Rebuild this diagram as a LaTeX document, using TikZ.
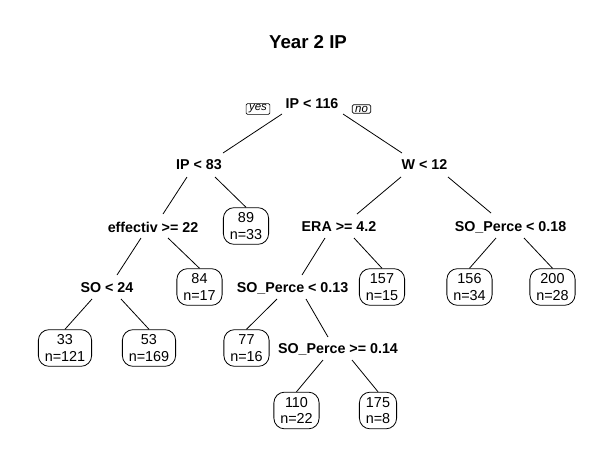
\documentclass[tikz,border=0pt]{standalone}
\usepackage{fontspec}
\setmainfont{Liberation Sans}
\usetikzlibrary{calc}
\begin{document}
\begin{tikzpicture}[x=0.75pt,y=-0.75pt,
  split/.style={font=\bfseries\fontsize{10.7}{12}\selectfont, inner sep=0pt},
  leaf/.style={draw, line width=0.6pt, rounded corners=8pt, align=center,
    font=\fontsize{10.8}{12.2}\selectfont, minimum height=27.5pt, inner xsep=4.8pt, inner ysep=1pt},
  lab/.style={draw, line width=0.5pt, font=\itshape\fontsize{8.6}{9}\selectfont,
    inner xsep=2.2pt, inner ysep=0.8pt, rounded corners=1pt},
  br/.style={line width=0.6pt}]
\useasboundingbox (0,0) rectangle (614,461);
\fill[white] (0,0) rectangle (614,461);
\node[font=\bfseries\fontsize{14}{16}\selectfont] (title) at (308,42) {Year 2 IP};
% split nodes
\node[split] (root) at (312,104) {IP < 116};
\node[lab] (yes) at (258,109) {yes};
\node[lab] (no) at (361.5,109) {no};
\node[split] (ip83) at (199,165) {IP < 83};
\node[split] (w12) at (424.5,165) {W < 12};
\node[split] (eff) at (153,227) {effectiv >= 22};
\node[split] (era) at (339,227) {ERA >= 4.2};
\node[split] (so18) at (510.5,227) {SO\_Perce < 0.18};
\node[split] (so24) at (107,288) {SO < 24};
\node[split] (so13) at (292.5,288) {SO\_Perce < 0.13};
\node[split] (so14) at (338,349) {SO\_Perce >= 0.14};
% leaves
\node[leaf] (l89) at (246,226) {89\\n=33};
\node[leaf] (l84) at (199.5,287) {84\\n=17};
\node[leaf] (l157) at (382,287) {157\\n=15};
\node[leaf] (l156) at (469.5,287) {156\\n=34};
\node[leaf] (l200) at (552.5,287) {200\\n=28};
\node[leaf] (l33) at (65,348) {33\\n=121};
\node[leaf] (l53) at (149,348) {53\\n=169};
\node[leaf] (l77) at (246.5,348) {77\\n=16};
\node[leaf] (l110) at (296.5,410.5) {110\\n=22};
\node[leaf] (l175) at (378,410.5) {175\\n=8};
% branches
\draw[br] ($(root)+(-30,10)$) -- ($(ip83)+(24,-12)$);
\draw[br] ($(root)+(31,10)$) -- ($(w12)+(-22.5,-12)$);
\draw[br] ($(ip83)+(-12,12)$) -- ($(eff)+(10,-13)$);
\draw[br] ($(ip83)+(16,12)$) -- (l89.north);
\draw[br] ($(w12)+(-23.5,12)$) -- ($(era)+(18,-13)$);
\draw[br] ($(w12)+(23.5,12)$) -- ($(so18)+(-19.5,-14)$);
\draw[br] ($(eff)+(-12,11)$) -- ($(so24)+(10,-13)$);
\draw[br] ($(eff)+(15,11)$) -- (l84.north);
\draw[br] ($(era)+(-14,11)$) -- ($(so13)+(9.5,-13)$);
\draw[br] ($(era)+(15,11)$) -- (l157.north);
\draw[br] ($(so18)+(-14.5,11)$) -- (l156.north);
\draw[br] ($(so18)+(13.5,11)$) -- (l200.north);
\draw[br] ($(so24)+(-15,11)$) -- (l33.north);
\draw[br] ($(so24)+(14,11)$) -- (l53.north);
\draw[br] ($(so13)+(-15.5,11)$) -- (l77.north);
\draw[br] ($(so13)+(13.5,11)$) -- ($(so14)+(-10,-12)$);
\draw[br] ($(so14)+(-15,11)$) -- (l110.north);
\draw[br] ($(so14)+(14,11)$) -- (l175.north);
\end{tikzpicture}
\end{document}
